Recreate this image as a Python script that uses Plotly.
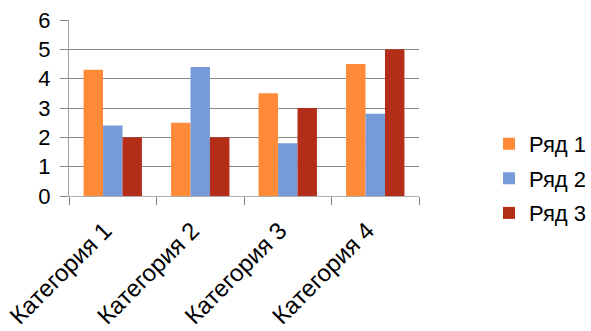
import plotly.graph_objects as go

categories = ["Категория 1", "Категория 2", "Категория 3", "Категория 4"]
series_names = ["Ряд 1", "Ряд 2", "Ряд 3"]
row1 = [4.3, 2.5, 3.5, 4.5]
row2 = [2.4, 4.4, 1.8, 2.8]
row3 = [2, 2, 3, 5]
colors = ["#FF8A38", "#779BD8", "#B32D18"]

fig = go.Figure()
for i, (name, vals) in enumerate(zip(series_names, [row1, row2, row3])):
    fig.add_trace(go.Bar(x=categories, y=vals, name=name, marker_color=colors[i],
                         marker_line_width=0, legendgroup=name))

font = "Liberation Sans, Arial, sans-serif"
fig.update_layout(
    width=591, height=331,
    margin=dict(l=69, r=172, t=20, b=135, autoexpand=False),
    paper_bgcolor="white", plot_bgcolor="white",
    barmode="group", bargap=0.333, bargroupgap=0,
    font=dict(family=font, color="black"),
    legend=dict(x=1.2, y=0.1, xanchor="left", yanchor="middle",
                font=dict(size=22, family=font), tracegroupgap=3,
                traceorder="grouped"),
    showlegend=True,
)
fig.update_xaxes(tickangle=-45, tickfont=dict(size=24), showline=True, linecolor="#B0B0B0",
                 ticks="outside", ticklen=8, tickcolor="#808080", tickson="boundaries",
                 showgrid=False, ticklabelstandoff=10, ticklabelshift=-8, automargin=False)
fig.update_yaxes(range=[0, 6], dtick=1, tickfont=dict(size=22), showline=True,
                 linecolor="#A0A0A0", gridcolor="#888888", gridwidth=1.3,
                 ticks="outside", ticklen=8, tickcolor="#888888", zeroline=False,
                 ticklabelstandoff=5, automargin=False)
fig.write_html("out.html")
